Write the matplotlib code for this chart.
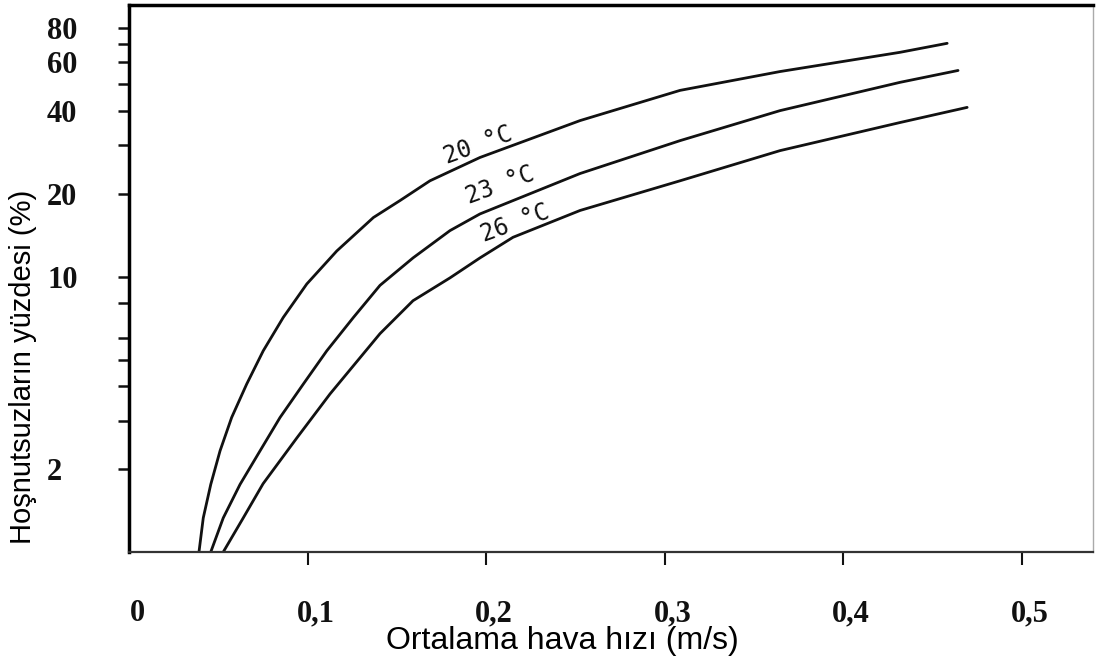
import matplotlib
matplotlib.use("Agg")
import matplotlib.pyplot as plt
import matplotlib.transforms as mtransforms
from matplotlib.ticker import FixedLocator, FixedFormatter, NullLocator

# hava hizi (m/s) ve hosnutsuz yuzdesi (%)
x_20 = [0.0392, 0.0416, 0.0458, 0.0510, 0.0575, 0.0659, 0.0752, 0.0864,
        0.0996, 0.1164, 0.1369, 0.1518, 0.1686, 0.1966, 0.2527, 0.3087,
        0.3647, 0.4319, 0.4583]
y_20 = [1.0, 1.33, 1.76, 2.33, 3.08, 4.07, 5.38, 7.11,
        9.41, 12.4, 16.4, 18.9, 22.3, 27.1, 36.9, 47.5,
        55.6, 65.3, 70.4]

x_23 = [0.0458, 0.0528, 0.0622, 0.0734, 0.0846, 0.0976, 0.1108, 0.1257,
        0.1406, 0.1591, 0.1798, 0.1966, 0.2527, 0.3087, 0.3647, 0.4319,
        0.4644]
y_23 = [1.0, 1.33, 1.76, 2.33, 3.08, 4.07, 5.38, 7.11,
        9.3, 11.7, 14.7, 16.9, 23.7, 31.2, 40.1, 50.8,
        56.1]

x_26 = [0.0528, 0.0640, 0.0751, 0.0941, 0.1126, 0.1406, 0.1591, 0.1798,
        0.1966, 0.2151, 0.2527, 0.3087, 0.3647, 0.4319, 0.4695]
y_26 = [1.0, 1.33, 1.77, 2.60, 3.75, 6.21, 8.18, 9.9,
        11.7, 13.9, 17.4, 22.3, 28.7, 36.3, 41.2]

curve_labels = ["20 °C", "23 °C", "26 °C"]
label_x = [0.1955, 0.2078, 0.2162]
label_y = [29.9, 21.4, 15.7]

xticks = [0, 0.1, 0.2, 0.3, 0.4, 0.5]
xtick_labels = ["0", "0,1", "0,2", "0,3", "0,4", "0,5"]
yticks = [2, 3, 4, 5, 6, 8, 10, 20, 30, 40, 50, 60, 70, 80]
ytick_labels = ["2", "", "", "", "", "", "10", "20", "", "40", "", "60", "", "80"]

fig = plt.figure(figsize=(10.96, 6.69), dpi=100)
ax = fig.add_axes([129 / 1096, 117 / 669, 964 / 1096, 547 / 669])

for xs, ys in [(x_20, y_20), (x_23, y_23), (x_26, y_26)]:
    ax.plot(xs, ys, color="#111111", lw=2.0, solid_capstyle="round",
            solid_joinstyle="round")

ax.set_yscale("log")
ax.set_xlim(0, 0.54)
ax.set_ylim(1, 97)

for txt, lx, ly in zip(curve_labels, label_x, label_y):
    ax.text(lx, ly, txt, rotation=20, ha="center", va="center",
            fontsize=17, family="DejaVu Sans Mono", color="#111111")

ax.yaxis.set_major_locator(FixedLocator(yticks))
ax.yaxis.set_major_formatter(FixedFormatter(ytick_labels))
ax.yaxis.set_minor_locator(NullLocator())
ax.xaxis.set_major_locator(FixedLocator(xticks))
ax.xaxis.set_major_formatter(FixedFormatter(xtick_labels))

ax.tick_params(axis="y", direction="out", length=8, width=1.8, pad=51,
               labelsize=22, colors="#111111")
ax.tick_params(axis="x", direction="out", length=9, width=1.5, pad=25,
               labelsize=22, colors="#111111")

# taranmis orijinalde x etiketleri tiklerin biraz sagina kaymis
shift = mtransforms.ScaledTranslation(8 / 100, 0, fig.dpi_scale_trans)
for lab in ax.get_yticklabels():
    lab.set_horizontalalignment("left")
    lab.set_family("Liberation Serif")
    lab.set_weight("bold")
for lab in ax.get_xticklabels():
    lab.set_family("Liberation Serif")
    lab.set_weight("bold")
    lab.set_transform(lab.get_transform() + shift)
# 0 noktasinda tik cizgisi yok
ax.xaxis.get_major_ticks()[0].tick1line.set_visible(False)

ax.spines["left"].set_linewidth(2.5)
ax.spines["top"].set_linewidth(2.5)
ax.spines["bottom"].set_linewidth(1.6)
ax.spines["bottom"].set_color("#333333")
ax.spines["right"].set_linewidth(1.0)
ax.spines["right"].set_color("#aaaaaa")

fig.text(562 / 1096, 1 - 641 / 669, "Ortalama hava hızı (m/s)",
         ha="center", va="center", fontsize=23, family="Liberation Sans")
fig.text(23 / 1096, 1 - 367 / 669, "Hoşnutsuzların yüzdesi (%)",
         ha="center", va="center", rotation=90, fontsize=21,
         family="Liberation Sans")

fig.savefig("out.png", dpi=100)
